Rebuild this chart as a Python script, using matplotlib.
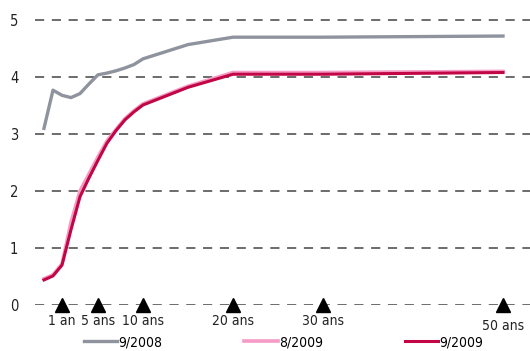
import matplotlib
matplotlib.use("Agg")
import matplotlib.pyplot as plt

plt.rcParams['font.family'] = ['DejaVu Sans']
plt.rcParams['font.stretch'] = 'condensed'

# position des points sur l'axe (années)
x_2008 = [-1, 0, 1, 2, 3, 4, 5, 6, 7, 8, 9, 10, 15, 20, 30, 50]
y_2008 = [3.10, 3.77, 3.68, 3.64, 3.71, 3.88, 4.04, 4.07, 4.11, 4.16, 4.22, 4.32, 4.57, 4.70, 4.70, 4.72]

x_2009 = [-1, 0, 1, 2, 3, 4, 5, 6, 7, 8, 9, 10, 15, 20, 30, 50]
y_aug09 = [0.46, 0.53, 0.72, 1.45, 2.00, 2.30, 2.60, 2.88, 3.08, 3.27, 3.41, 3.53, 3.84, 4.08, 4.08, 4.10]
y_sep09 = [0.44, 0.51, 0.70, 1.32, 1.90, 2.23, 2.54, 2.84, 3.06, 3.25, 3.39, 3.51, 3.82, 4.05, 4.05, 4.08]

mark_x = [1, 5, 10, 20, 30, 50]
mark_labels = ['1 an', '5 ans', '10 ans', '20 ans', '30 ans', '50 ans']

fig = plt.figure(figsize=(5.30, 3.51), dpi=100)
ax = fig.add_axes([0.066, 0.131, 0.934, 0.828])

for v in range(6):
    ax.axhline(v, color='#444444', lw=1.1, ls=(0, (6, 5)), zorder=1)

ax.plot(x_2008, y_2008, color='#8E939E', lw=2.4, label='9/2008', zorder=3)
ax.plot(x_2009, y_aug09, color='#F59BC5', lw=2.6, label='8/2009', zorder=3)
ax.plot(x_2009, y_sep09, color='#C20645', lw=2.2, label='9/2009', zorder=4)

ax.plot(mark_x, [0] * len(mark_x), ls='none', marker='^', ms=10, color='black',
        clip_on=False, zorder=5)
for xv, lab in zip(mark_x, mark_labels):
    dy = -0.37 if xv == 50 else -0.28
    ax.text(xv, dy, lab, ha='center', va='center', fontsize=10, color='#222222')

ax.set_xlim(-2, 53)
ax.set_ylim(0, 5.1)
ax.set_yticks(range(6))
ax.set_xticks([])
ax.tick_params(axis='y', length=0, labelsize=10.5, pad=12, labelcolor='#222222')
for s in ax.spines.values():
    s.set_visible(False)

fig.legend(loc='center', bbox_to_anchor=(0.535, 0.025), ncol=3, frameon=False,
           fontsize=10, handlelength=2.4, handletextpad=0.1, columnspacing=5.9)

fig.savefig('out.png', dpi=100)
